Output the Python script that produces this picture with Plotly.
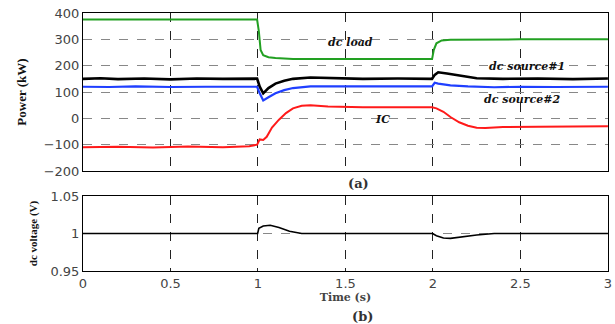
import plotly.graph_objects as go
from plotly.subplots import make_subplots

# ---- data ----
t_load = [0, 0.3, 0.7, 0.995, 1.005, 1.015, 1.03, 1.06, 1.1, 1.2, 1.5, 1.8, 1.995, 2.005, 2.02, 2.05, 2.1, 2.5, 3.0]
p_load = [375, 375, 374, 375, 330, 260, 240, 232, 229, 225, 225, 224, 225, 260, 285, 296, 298, 300, 300]

t_src1 = [0, 0.1, 0.2, 0.35, 0.5, 0.65, 0.8, 0.995, 1.01, 1.03, 1.06, 1.1, 1.15, 1.2, 1.3, 1.4, 1.6, 1.8, 1.995, 2.01, 2.03, 2.08, 2.15, 2.25, 2.4, 2.6, 2.8, 3.0]
p_src1 = [150, 152, 149, 151, 148, 151, 150, 151, 120, 95, 115, 132, 143, 150, 155, 153, 150, 151, 150, 165, 175, 170, 162, 152, 150, 151, 149, 151]

t_src2 = [0, 0.15, 0.3, 0.5, 0.7, 0.9, 0.995, 1.01, 1.03, 1.06, 1.1, 1.15, 1.2, 1.3, 1.45, 1.6, 1.8, 1.995, 2.01, 2.03, 2.1, 2.2, 2.35, 2.5, 2.7, 3.0]
p_src2 = [120, 119, 121, 119, 120, 121, 120, 95, 68, 80, 95, 107, 115, 121, 121, 119, 120, 121, 135, 132, 125, 121, 118, 120, 119, 120]

t_ic = [0, 0.2, 0.4, 0.6, 0.8, 0.95, 0.995, 1.01, 1.03, 1.05, 1.08, 1.12, 1.16, 1.2, 1.25, 1.3, 1.4, 1.6, 1.8, 1.995, 2.02, 2.06, 2.1, 2.15, 2.2, 2.25, 2.3, 2.4, 2.6, 2.8, 3.0]
p_ic = [-110, -108, -111, -107, -110, -106, -100, -80, -82, -70, -35, -5, 20, 38, 48, 50, 45, 42, 42, 42, 38, 25, 5, -15, -28, -36, -37, -33, -32, -31, -30]

t_v = [0, 0.5, 0.998, 1.005, 1.03, 1.07, 1.12, 1.18, 1.25, 1.5, 1.998, 2.02, 2.06, 2.1, 2.18, 2.25, 2.35, 2.6, 3.0]
v_dc = [1.0, 1.0, 1.0, 1.007, 1.010, 1.011, 1.008, 1.003, 1.0, 1.0, 1.0, 0.997, 0.994, 0.9935, 0.996, 0.998, 1.0, 1.0, 1.0]

x_ticks = [0, 0.5, 1, 1.5, 2, 2.5, 3]
x_tick_text = ["0", "0.5", "1", "1.5", "2", "2.5", "3"]
p_ticks = [-200, -100, 0, 100, 200, 300, 400]
v_ticks = [0.95, 1.0, 1.05]
v_tick_text = ["0.95", "1", "1.05"]

labels = ["dc load", "dc source#1", "dc source#2", "IC"]
label_x = [1.53, 2.54, 2.51, 1.71]
label_y = [287, 197, 72, -5]

fig = make_subplots(rows=2, cols=1)

fig.add_trace(go.Scatter(x=t_load, y=p_load, mode="lines", line=dict(color="#22a022", width=2)), row=1, col=1)
fig.add_trace(go.Scatter(x=t_src1, y=p_src1, mode="lines", line=dict(color="black", width=2.6)), row=1, col=1)
fig.add_trace(go.Scatter(x=t_src2, y=p_src2, mode="lines", line=dict(color="#1f3fff", width=2.2)), row=1, col=1)
fig.add_trace(go.Scatter(x=t_ic, y=p_ic, mode="lines", line=dict(color="#ff1a1a", width=2)), row=1, col=1)
fig.add_trace(go.Scatter(x=t_v, y=v_dc, mode="lines", line=dict(color="black", width=1.6)), row=2, col=1)

serif = "Liberation Serif, Times New Roman, serif"
wserif = "DejaVu Serif, serif"
sans = "DejaVu Sans, Arial, sans-serif"

for lab, lx, ly in zip(labels, label_x, label_y):
    fig.add_annotation(x=lx, y=ly, xref="x", yref="y", text="<b><i>" + lab + "</i></b>",
                       showarrow=False, font=dict(family=wserif, size=11, color="#111"))

axis_common = dict(showline=True, linecolor="black", linewidth=1, mirror=True,
                   ticks="", zeroline=False, automargin=False, ticklabeloverflow="allow")
tickfont = dict(family=sans, size=13, color="#444")

fig.update_xaxes(range=[0, 3.0005], tickvals=x_ticks, ticktext=x_tick_text, showgrid=True,
                 gridcolor="#222", griddash="dash", gridwidth=1, **axis_common)
fig.update_xaxes(showticklabels=False, row=1, col=1)
fig.update_xaxes(showticklabels=True, tickfont=tickfont,
                 title=dict(text="<b>Time (s)</b>", font=dict(family=wserif, size=11, color="#444"), standoff=3),
                 row=2, col=1)

fig.update_yaxes(range=[-200, 400], tickvals=p_ticks, showgrid=True, gridcolor="#888",
                 griddash="dash", gridwidth=1, tickfont=tickfont,
                 title=dict(text="<b>Power (kW)</b>", font=dict(family=serif, size=13, color="#111"), standoff=14),
                 row=1, col=1, **axis_common)
fig.update_yaxes(range=[0.95, 1.05], tickvals=v_ticks, ticktext=v_tick_text, showgrid=True,
                 gridcolor="#888", griddash="dash", gridwidth=1, tickfont=tickfont,
                 title=dict(text="<b>dc voltage (V)</b>", font=dict(family=serif, size=11, color="#111"), standoff=10),
                 row=2, col=1, **axis_common)

fig.update_layout(
    width=615, height=324,
    margin=dict(l=83, r=7, t=13, b=53),
    plot_bgcolor="white", paper_bgcolor="white",
    showlegend=False,
    xaxis=dict(domain=[0, 1]),
    yaxis=dict(domain=[0.3876, 1.0]),
    xaxis2=dict(domain=[0, 1]),
    yaxis2=dict(domain=[0.0, 0.2907]),
)

fig.add_annotation(x=0.0, y=(271 - 183) / 258, xref="paper", yref="paper", text="<b>(a)</b>", showarrow=False,
                   xshift=263, yanchor="middle", font=dict(family=wserif, size=13, color="#333"))
fig.add_annotation(x=0.0, y=(271 - 316) / 258, xref="paper", yref="paper", text="<b>(b)</b>", showarrow=False,
                   xshift=267, yanchor="middle", font=dict(family=wserif, size=13, color="#333"))

# remove the default 8px page margin so the 615x324 figure fills the window
fig.write_html("out.html", config={"displayModeBar": False},
               post_script="document.body.style.margin='0';document.body.style.overflow='hidden';")
